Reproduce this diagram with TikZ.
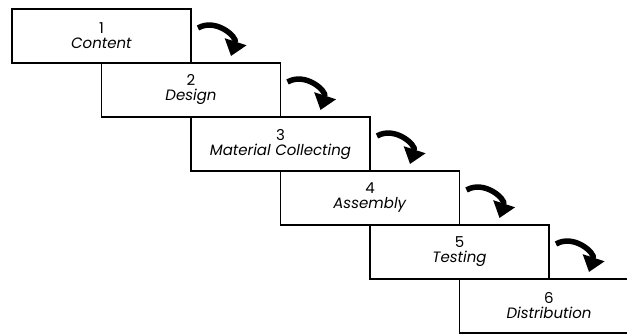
\documentclass[tikz,border=0pt]{standalone}
\usepackage{fontspec}
\setmainfont{Poppins}
\usetikzlibrary{positioning,arrows.meta}

\begin{document}
\begin{tikzpicture}[x=1pt,y=1pt]
\tikzstyle{stage}=[draw=black, line width=1.8pt, minimum width=179pt, minimum height=54pt, inner sep=0pt, outer sep=0pt, align=center, font=\fontsize{15}{15}\selectfont]
\tikzstyle{curvearrow}=[line width=5.5pt, -{Triangle[length=15pt,width=22pt]}]
\clip (0,0) rectangle (627,-333);
\node[stage, anchor=north west] (b1) at (12,-9) {1\\\textit{Content}};
\node[stage, below right=0pt and 0pt of b1.south] (b2) {2\\\textit{Design}};
\node[stage, below right=0pt and 0pt of b2.south] (b3) {3\\\textit{Material Collecting}};
\node[stage, below right=0pt and 0pt of b3.south] (b4) {4\\\textit{Assembly}};
\node[stage, below right=0pt and 0pt of b4.south] (b5) {5\\\textit{Testing}};
\node[stage, below right=0pt and 0pt of b5.south] (b6) {6\\\textit{Distribution}};
% curved arrows beside each step
\coordinate (s1) at ([shift={(7,-19)}]b1.north east);
\coordinate (e1) at ([shift={(40,-47)}]b1.north east);
\coordinate (s2) at ([shift={(7,-19)}]b2.north east);
\coordinate (e2) at ([shift={(40,-47)}]b2.north east);
\coordinate (s3) at ([shift={(7,-19)}]b3.north east);
\coordinate (e3) at ([shift={(40,-47)}]b3.north east);
\coordinate (s4) at ([shift={(7,-19)}]b4.north east);
\coordinate (e4) at ([shift={(40,-47)}]b4.north east);
\coordinate (s5) at ([shift={(7,-19)}]b5.north east);
\coordinate (e5) at ([shift={(40,-47)}]b5.north east);
\draw[curvearrow] (s1) to[out=30, in=72, looseness=1.2] (e1);
\draw[curvearrow] (s2) to[out=30, in=72, looseness=1.2] (e2);
\draw[curvearrow] (s3) to[out=30, in=72, looseness=1.2] (e3);
\draw[curvearrow] (s4) to[out=30, in=72, looseness=1.2] (e4);
\draw[curvearrow] (s5) to[out=30, in=72, looseness=1.2] (e5);
\end{tikzpicture}
\end{document}
